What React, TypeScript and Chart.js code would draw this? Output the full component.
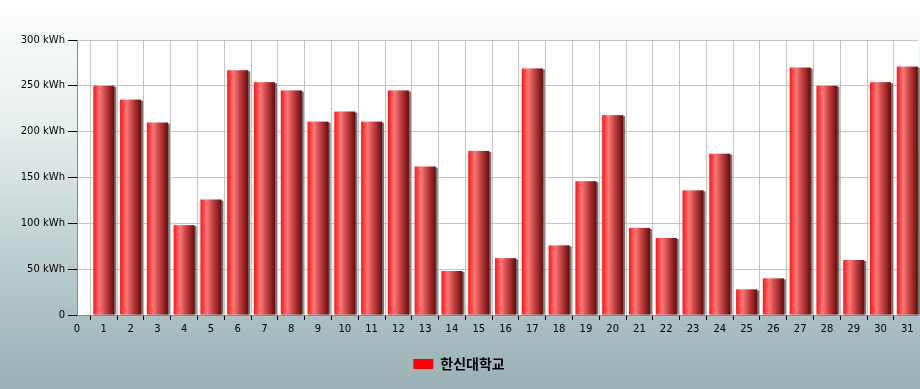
import React, { useEffect, useRef } from "react";
import { Chart, registerables } from "chart.js";

Chart.register(...registerables);

const days: number[] = [1,2,3,4,5,6,7,8,9,10,11,12,13,14,15,16,17,18,19,20,21,22,23,24,25,26,27,28,29,30,31];
const usage: number[] = [250,235,210,98,126,267,254,245,211,222,211,245,162,48,179,62,269,76,146,218,95,84,136,176,28,40,270,250,60,254,271];
const seriesLabel = "한신대학교";
const yTicks: number[] = [0, 50, 100, 150, 200, 250, 300];

export default function App() {
  const ref = useRef<HTMLCanvasElement | null>(null);
  useEffect(() => {
    document.body.style.margin = "0";
    const canvas = ref.current!;
    const barPlugin = {
      id: "barStyle",
      beforeDraw(chart: any) {
        const { ctx, chartArea: a } = chart;
        ctx.save();
        ctx.fillStyle = "#ffffff";
        ctx.fillRect(a.left, a.top, a.right - a.left, a.bottom - a.top);
        ctx.restore();
      },
      afterDatasetsDraw(chart: any) {
        const { ctx } = chart;
        const meta = chart.getDatasetMeta(0);
        ctx.save();
        meta.data.forEach((el: any) => {
          const w = el.width;
          const left = el.x - w / 2;
          const top = el.y;
          const h = el.base - el.y;
          ctx.fillStyle = "rgba(90,90,90,0.85)";
          ctx.fillRect(left + 2, top + 1, w, h - 1);
          const g = ctx.createLinearGradient(left, 0, left + w, 0);
          g.addColorStop(0, "#ff1414");
          g.addColorStop(0.3, "#ff7878");
          g.addColorStop(0.55, "#cc4a4a");
          g.addColorStop(1, "#6c0808");
          ctx.fillStyle = g;
          ctx.fillRect(left, top, w, h);
        });
        ctx.restore();
      },
    };
    const chart = new Chart(canvas, {
      type: "bar",
      data: {
        datasets: [
          {
            label: seriesLabel,
            data: days.map((d, i) => ({ x: d, y: usage[i] })),
            backgroundColor: "rgba(0,0,0,0)",
            borderWidth: 0,
            barThickness: 21,
          },
        ],
      },
      options: {
        animation: false,
        responsive: false,
        maintainAspectRatio: false,
        layout: { padding: { top: 40, right: 2, left: 0, bottom: 8 } },
        scales: {
          x: {
            type: "linear",
            min: 0,
            max: 31.4,
            offset: false,
            ticks: {
              stepSize: 1,
              autoSkip: false,
              maxRotation: 0,
              color: "#000",
              font: { family: "DejaVu Sans", size: 10 },
              padding: 3,
              callback: (v: any) => (Number.isInteger(v) ? String(v) : ""),
            },
            afterBuildTicks: (s: any) => {
              s.ticks = days.concat([0]).sort((a, b) => a - b).map((v) => ({ value: v }));
            },
            grid: { color: "#c4c4c4", tickColor: "#000", tickLength: 5, lineWidth: 1 },
            border: { color: "#888888" },
          },
          y: {
            min: 0,
            max: 300,
            afterBuildTicks: (s: any) => {
              s.ticks = yTicks.map((v) => ({ value: v }));
            },
            afterFit: (s: any) => {
              s.width = 77;
            },
            ticks: {
              color: "#000",
              font: { family: "DejaVu Sans", size: 10 },
              padding: 3,
              callback: (v: any) => (v === 0 ? "0" : v + " kWh"),
            },
            grid: { color: "#c4c4c4", tickColor: "#000", tickLength: 9, lineWidth: 1 },
            border: { color: "#888888" },
          },
        },
        plugins: {
          tooltip: { enabled: false },
          legend: {
            position: "bottom",
            labels: {
              boxWidth: 20,
              boxHeight: 10,
              color: "#000",
              font: { family: "Noto Sans CJK KR", size: 14, weight: "bold" },
              padding: 19,
              generateLabels: () => [
                { text: seriesLabel, fillStyle: "#ff0000", strokeStyle: "#ff0000", lineWidth: 0, datasetIndex: 0 } as any,
              ],
            },
          },
        },
      },
      plugins: [barPlugin],
    } as any);
    return () => chart.destroy();
  }, []);
  return (
    <div
      style={{
        width: 920,
        height: 389,
        background: "linear-gradient(to bottom, #ffffff 0%, #e4ecec 35%, #b8cacc 70%, #98b0b5 100%)",
      }}
    >
      <canvas ref={ref} width={920} height={389} style={{ display: "block" }} />
    </div>
  );
}
